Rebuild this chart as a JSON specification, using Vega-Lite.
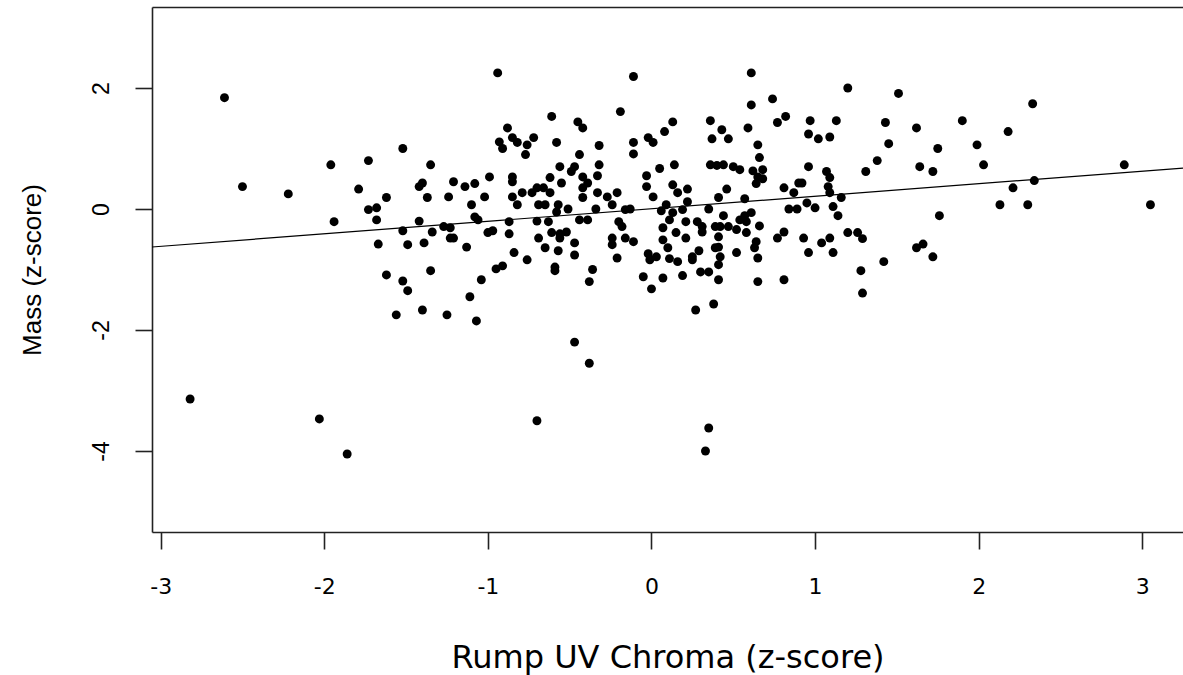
{
  "$schema": "https://vega.github.io/schema/vega-lite/v6.json",
  "autosize": "none",
  "padding": {"left": 152, "top": 7, "right": 0, "bottom": 143},
  "width": 1031,
  "height": 525,
  "background": "white",
  "config": {
    "view": {"stroke": null},
    "axis": {
      "grid": false,
      "domainColor": "#222222",
      "domainWidth": 1.6,
      "tickColor": "#222222",
      "tickWidth": 1.6,
      "labelColor": "black",
      "labelFont": "Liberation Sans",
      "labelFontSize": 23,
      "titleFont": "Liberation Sans",
      "titleFontSize": 26,
      "titleFontWeight": "normal",
      "titleColor": "black"
    }
  },
  "datasets": {
    "pts": [
      {"x":-2.82,"y":-3.14},{"x":-2.61,"y":1.84},{"x":-2.5,"y":0.37},{"x":-2.22,"y":0.25},{"x":-2.03,"y":-3.47},{"x":-1.86,"y":-4.05},
      {"x":-1.52,"y":1.0},{"x":-1.96,"y":0.73},{"x":-1.73,"y":0.8},{"x":-1.35,"y":0.73},{"x":-1.79,"y":0.33},{"x":-1.4,"y":0.43},{"x":-1.42,"y":0.37},{"x":-1.21,"y":0.45},{"x":-1.62,"y":0.19},{"x":-1.37,"y":0.19},{"x":-1.24,"y":0.2},
      {"x":-1.73,"y":-0.01},{"x":-1.68,"y":0.02},{"x":-1.94,"y":-0.21},{"x":-1.68,"y":-0.18},{"x":-1.42,"y":-0.2},{"x":-1.52,"y":-0.36},{"x":-1.34,"y":-0.38},{"x":-1.27,"y":-0.29},{"x":-1.23,"y":-0.31},{"x":-1.23,"y":-0.48},{"x":-1.21,"y":-0.48},{"x":-1.67,"y":-0.58},{"x":-1.49,"y":-0.59},{"x":-1.39,"y":-0.56},{"x":-1.62,"y":-1.09},{"x":-1.35,"y":-1.02},{"x":-1.52,"y":-1.19},{"x":-1.49,"y":-1.35},{"x":-1.56,"y":-1.75},{"x":-1.4,"y":-1.67},{"x":-1.25,"y":-1.75},
      {"x":-0.94,"y":2.25},{"x":-0.19,"y":1.61},{"x":-0.61,"y":1.53},{"x":-0.88,"y":1.34},{"x":-0.45,"y":1.44},{"x":-0.42,"y":1.34},{"x":-0.93,"y":1.11},{"x":-0.91,"y":1.0},{"x":-0.85,"y":1.18},{"x":-0.82,"y":1.1},{"x":-0.76,"y":1.06},{"x":-0.72,"y":1.18},{"x":-0.77,"y":0.9},{"x":-0.58,"y":1.1},{"x":-0.32,"y":1.05},{"x":-0.44,"y":0.9},{"x":-0.56,"y":0.7},{"x":-0.47,"y":0.7},{"x":-0.49,"y":0.62},{"x":-0.32,"y":0.73},{"x":-0.33,"y":0.55},{"x":-0.42,"y":0.53},{"x":-0.39,"y":0.43},{"x":-0.42,"y":0.35},{"x":-0.62,"y":0.52},{"x":-0.55,"y":0.43},{"x":-0.99,"y":0.53},{"x":-1.14,"y":0.37},{"x":-1.08,"y":0.42},{"x":-0.85,"y":0.53},{"x":-0.85,"y":0.45},{"x":-1.02,"y":0.2},{"x":-0.85,"y":0.2},{"x":-0.79,"y":0.27},{"x":-0.73,"y":0.27},{"x":-0.7,"y":0.35},{"x":-0.66,"y":0.35},{"x":-0.62,"y":0.27},{"x":-0.33,"y":0.27},{"x":-0.27,"y":0.2},{"x":-0.21,"y":0.27},
      {"x":-1.1,"y":0.07},{"x":-0.82,"y":0.07},{"x":-0.69,"y":0.07},{"x":-0.65,"y":0.07},{"x":-0.57,"y":0.07},{"x":-0.58,"y":-0.05},{"x":-0.51,"y":0.0},{"x":-0.42,"y":0.19},{"x":-0.34,"y":0.0},{"x":-0.24,"y":0.07},{"x":-0.16,"y":-0.01},{"x":-1.08,"y":-0.13},{"x":-1.06,"y":-0.18},{"x":-0.87,"y":-0.21},{"x":-0.7,"y":-0.2},{"x":-0.63,"y":-0.21},{"x":-0.44,"y":-0.18},{"x":-0.39,"y":-0.18},{"x":-0.2,"y":-0.21},{"x":-0.18,"y":-0.29},{"x":-1.0,"y":-0.39},{"x":-0.97,"y":-0.36},{"x":-0.87,"y":-0.41},{"x":-0.69,"y":-0.48},{"x":-0.61,"y":-0.39},{"x":-0.56,"y":-0.41},{"x":-0.52,"y":-0.38},{"x":-0.56,"y":-0.48},{"x":-0.24,"y":-0.48},{"x":-0.24,"y":-0.59},{"x":-0.16,"y":-0.48},{"x":-0.47,"y":-0.56},{"x":-1.13,"y":-0.63},{"x":-0.65,"y":-0.64},{"x":-0.57,"y":-0.69},{"x":-0.84,"y":-0.72},{"x":-0.47,"y":-0.76},{"x":-0.21,"y":-0.81},{"x":-0.76,"y":-0.84},{"x":-0.95,"y":-0.99},{"x":-0.91,"y":-0.94},{"x":-0.59,"y":-0.96},{"x":-0.59,"y":-1.02},{"x":-0.36,"y":-1.0},{"x":-0.38,"y":-1.2},{"x":-1.04,"y":-1.17},{"x":-1.11,"y":-1.45},{"x":-1.07,"y":-1.85},{"x":-0.47,"y":-2.2},{"x":-0.38,"y":-2.55},{"x":-0.7,"y":-3.5},
      {"x":-0.11,"y":2.19},{"x":0.61,"y":2.25},{"x":0.74,"y":1.82},{"x":0.61,"y":1.72},{"x":0.82,"y":1.53},{"x":0.77,"y":1.43},{"x":0.13,"y":1.44},{"x":0.08,"y":1.28},{"x":0.36,"y":1.46},{"x":0.43,"y":1.31},{"x":0.59,"y":1.34},{"x":-0.02,"y":1.18},{"x":0.01,"y":1.1},{"x":0.37,"y":1.16},{"x":0.47,"y":1.16},{"x":-0.11,"y":1.1},{"x":-0.11,"y":0.91},{"x":0.65,"y":1.06},{"x":0.66,"y":0.85},{"x":0.14,"y":0.73},{"x":0.05,"y":0.67},{"x":-0.03,"y":0.55},{"x":0.36,"y":0.73},{"x":0.4,"y":0.72},{"x":0.44,"y":0.73},{"x":0.5,"y":0.7},{"x":0.54,"y":0.65},{"x":0.62,"y":0.63},{"x":0.68,"y":0.65},{"x":0.65,"y":0.53},{"x":0.68,"y":0.5},{"x":0.64,"y":0.42},{"x":-0.03,"y":0.37},{"x":0.01,"y":0.2},{"x":0.13,"y":0.4},{"x":0.16,"y":0.27},{"x":0.22,"y":0.33},{"x":0.46,"y":0.33},{"x":0.81,"y":0.35},{"x":0.87,"y":0.27},{"x":0.41,"y":0.19},{"x":0.57,"y":0.17},{"x":0.9,"y":0.43},
      {"x":-0.13,"y":0.0},{"x":0.09,"y":0.07},{"x":0.22,"y":0.12},{"x":0.06,"y":-0.03},{"x":0.13,"y":-0.06},{"x":0.19,"y":-0.01},{"x":0.35,"y":0.0},{"x":0.84,"y":0.0},{"x":0.89,"y":0.0},{"x":0.11,"y":-0.18},{"x":0.07,"y":-0.31},{"x":0.21,"y":-0.21},{"x":0.28,"y":-0.21},{"x":0.31,"y":-0.29},{"x":0.31,"y":-0.38},{"x":0.44,"y":-0.11},{"x":0.39,"y":-0.29},{"x":0.42,"y":-0.29},{"x":0.47,"y":-0.29},{"x":0.54,"y":-0.18},{"x":0.57,"y":-0.11},{"x":0.61,"y":-0.06},{"x":0.58,"y":-0.21},{"x":0.52,"y":-0.34},{"x":0.58,"y":-0.39},{"x":0.66,"y":-0.28},{"x":0.15,"y":-0.39},{"x":0.21,"y":-0.48},{"x":0.41,"y":-0.46},{"x":0.41,"y":-0.63},{"x":0.07,"y":-0.51},{"x":0.1,"y":-0.64},{"x":-0.11,"y":-0.54},{"x":0.64,"y":-0.54},{"x":0.63,"y":-0.64},{"x":0.77,"y":-0.48},{"x":0.81,"y":-0.38},{"x":0.29,"y":-0.69},{"x":0.39,"y":-0.64},{"x":-0.02,"y":-0.74},{"x":-0.01,"y":-0.84},{"x":0.03,"y":-0.79},{"x":0.11,"y":-0.82},{"x":0.16,"y":-0.87},{"x":0.25,"y":-0.79},{"x":0.25,"y":-0.84},{"x":0.42,"y":-0.79},{"x":0.41,"y":-0.92},{"x":0.52,"y":-0.72},{"x":0.65,"y":-0.81},{"x":0.3,"y":-1.04},{"x":0.35,"y":-1.04},{"x":-0.05,"y":-1.12},{"x":0.07,"y":-1.14},{"x":0.19,"y":-1.1},{"x":0.41,"y":-1.17},{"x":0.65,"y":-1.2},{"x":0.81,"y":-1.17},{"x":0.0,"y":-1.32},{"x":0.27,"y":-1.67},{"x":0.38,"y":-1.57},{"x":0.33,"y":-4.0},{"x":0.35,"y":-3.62},
      {"x":1.2,"y":2.0},{"x":1.51,"y":1.91},{"x":1.9,"y":1.46},{"x":0.97,"y":1.46},{"x":1.13,"y":1.46},{"x":1.43,"y":1.43},{"x":1.62,"y":1.34},{"x":0.96,"y":1.24},{"x":1.02,"y":1.16},{"x":1.09,"y":1.19},{"x":1.45,"y":1.08},{"x":1.75,"y":1.0},{"x":1.38,"y":0.8},{"x":1.31,"y":0.62},{"x":0.96,"y":0.7},{"x":1.07,"y":0.62},{"x":1.09,"y":0.52},{"x":1.08,"y":0.37},{"x":1.09,"y":0.27},{"x":1.64,"y":0.7},{"x":1.72,"y":0.62},{"x":0.92,"y":0.43},{"x":1.16,"y":0.19},
      {"x":0.95,"y":0.1},{"x":1.0,"y":0.02},{"x":1.11,"y":0.04},{"x":1.14,"y":-0.11},{"x":1.76,"y":-0.11},{"x":0.93,"y":-0.48},{"x":1.04,"y":-0.56},{"x":1.09,"y":-0.48},{"x":1.2,"y":-0.39},{"x":1.26,"y":-0.39},{"x":1.29,"y":-0.49},{"x":1.62,"y":-0.64},{"x":1.66,"y":-0.58},{"x":0.96,"y":-0.72},{"x":1.11,"y":-0.72},{"x":1.72,"y":-0.79},{"x":1.42,"y":-0.87},{"x":1.28,"y":-1.02},{"x":1.29,"y":-1.39},
      {"x":2.33,"y":1.74},{"x":2.18,"y":1.28},{"x":1.99,"y":1.06},{"x":2.03,"y":0.73},{"x":2.89,"y":0.73},{"x":2.34,"y":0.47},{"x":2.21,"y":0.35},{"x":2.13,"y":0.07},{"x":2.3,"y":0.07},{"x":3.05,"y":0.07}
    ],
    "fit": [
      {"x": -3.053, "y": -0.628},
      {"x": 3.249, "y": 0.677}
    ]
  },
  "layer": [
    {
      "data": {"name": "pts"},
      "mark": {"type": "circle", "size": 80, "color": "black", "opacity": 1},
      "encoding": {
        "x": {
          "field": "x", "type": "quantitative",
          "scale": {"domain": [-3.053, 3.249], "nice": false, "zero": false},
          "axis": {
            "values": [-3, -2, -1, 0, 1, 2, 3],
            "labelExpr": "datum.value < 0 ? '-' + abs(datum.value) : '' + datum.value",
            "labelFont": "DejaVu Sans", "labelFontSize": 22,
            "tickSize": 17, "labelPadding": 27, "labelBaseline": "top", "labelFlush": false,
            "title": "Rump UV Chroma (z-score)", "titleFont": "DejaVu Sans", "titleFontSize": 32,
            "titleY": 135, "titleBaseline": "alphabetic"
          }
        },
        "y": {
          "field": "y", "type": "quantitative",
          "scale": {"domain": [-5.339, 3.339], "nice": false, "zero": false},
          "axis": {
            "values": [-4, -2, 0, 2],
            "labelExpr": "datum.value < 0 ? '-' + abs(datum.value) : '' + datum.value",
            "tickSize": 17, "labelPadding": 27, "labelAngle": 270, "labelAlign": "center", "labelBaseline": "alphabetic", "labelFlush": false,
            "title": "Mass (z-score)", "titleAngle": 270, "titleX": -112, "titleY": 262.5, "titleAlign": "center", "titleBaseline": "alphabetic"
          }
        }
      }
    },
    {
      "data": {"name": "fit"},
      "mark": {"type": "line", "color": "black", "strokeWidth": 1.2, "clip": true},
      "encoding": {
        "x": {"field": "x", "type": "quantitative", "axis": {"orient": "top", "labels": false, "ticks": false, "title": null, "domain": true}},
        "y": {
          "field": "y", "type": "quantitative",
          "axis": {
            "values": [-4, -2, 0, 2],
            "labelExpr": "datum.value < 0 ? '-' + abs(datum.value) : '' + datum.value",
            "tickSize": 17, "labelPadding": 27, "labelAngle": 270, "labelAlign": "center", "labelBaseline": "alphabetic", "labelFlush": false,
            "title": "Mass (z-score)", "titleAngle": 270, "titleX": -112, "titleY": 262.5, "titleAlign": "center", "titleBaseline": "alphabetic"
          }
        }
      }
    }
  ],
  "resolve": {"axis": {"x": "independent"}}
}
